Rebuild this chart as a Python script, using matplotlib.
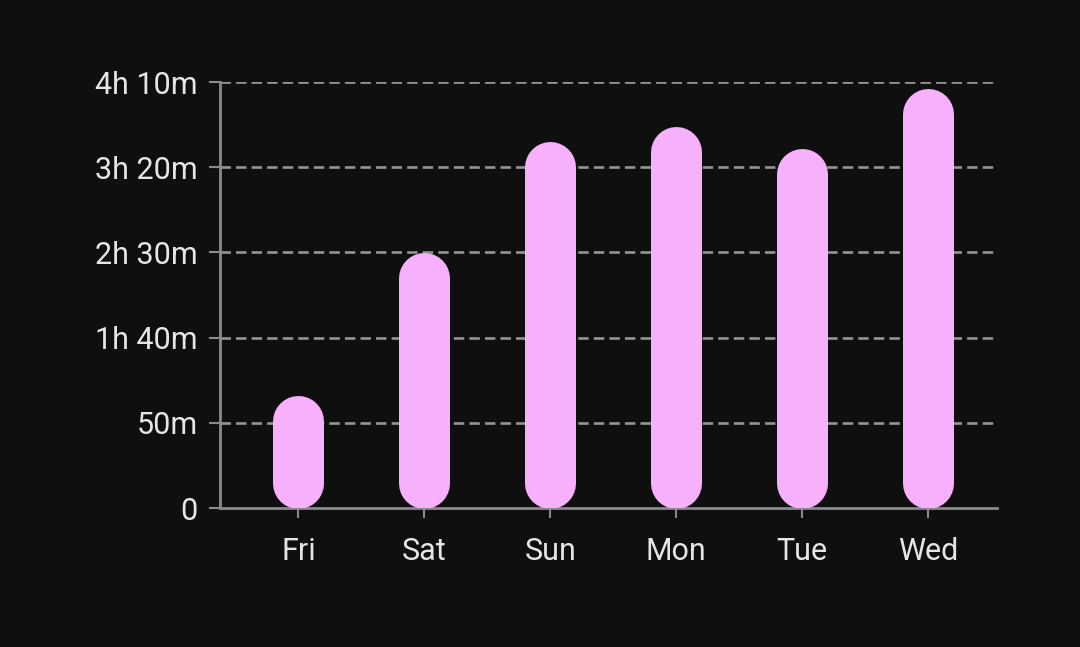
import matplotlib.pyplot as plt
import numpy as np

# screen time per day, minutes
days    = ['Fri', 'Sat', 'Sun', 'Mon', 'Tue', 'Wed']
minutes = [66, 150, 215, 224, 211, 246]
yticks  = [0, 50, 100, 150, 200, 250]


def fmt(m):
    h, mm = divmod(int(m), 60)
    if m == 0:
        return '0'
    if h == 0:
        return '%dm' % mm
    return '%dh %dm' % (h, mm)


plt.rcParams['font.family'] = ['Roboto', 'DejaVu Sans']
plt.rcParams['lines.scale_dashes'] = False

bg    = '#0f0f0f'
pink  = '#f6b0fc'
grey  = '#8a8a8a'
txt   = '#e6e6e6'

fig = plt.figure(figsize=(10.8, 6.47), dpi=100, facecolor=bg)
ax = fig.add_axes([220/1080, 1-508/647, (997-220)/1080, (508-82)/647])
ax.set_facecolor(bg)

x = np.arange(len(days))
ax.set_xlim(-0.623, len(days) - 1 + 0.548)
ax.set_ylim(0, 250)

##--- bar radius in data units (half of bar width in pixels)
bar_px = 51
r = (bar_px / 2) * 250 / ax.get_window_extent().height

for xi, v in zip(x, minutes):
    ax.plot([xi, xi], [r, v - r], color=pink, lw=bar_px * 72 / 100,
            solid_capstyle='round', zorder=3)

ax.set_yticks(yticks)
ax.set_yticklabels([fmt(t) for t in yticks])
ax.set_xticks(x)
ax.set_xticklabels(days)

for t in yticks[1:]:
    ax.axhline(t, color='#959595', lw=1.9, dashes=(7.5, 3.7), zorder=1)

for s in ['top', 'right']:
    ax.spines[s].set_visible(False)
for s in ['left', 'bottom']:
    ax.spines[s].set_color(grey)
    ax.spines[s].set_linewidth(2)
    ax.spines[s].set_zorder(2)

ax.tick_params(axis='y', colors=grey, length=8, width=1.5, pad=8,
               labelcolor=txt, labelsize=22)
ax.tick_params(axis='x', colors=grey, length=7, width=1.5, pad=14,
               labelcolor=txt, labelsize=22)

fig.savefig('out.png', dpi=100, facecolor=bg)
